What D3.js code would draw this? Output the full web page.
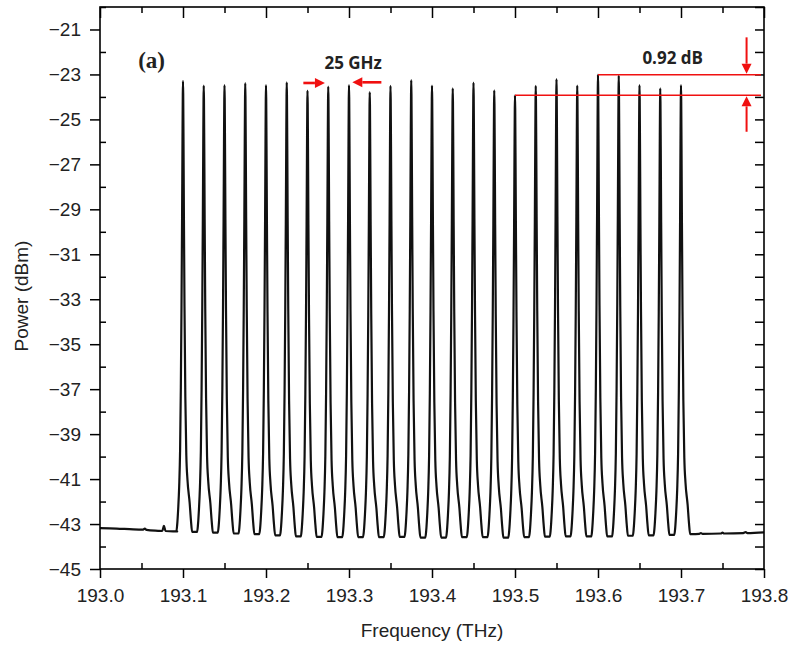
<!DOCTYPE html>
<html>
<head>
<meta charset="utf-8">
<script src="https://cdn.jsdelivr.net/npm/d3@7/dist/d3.min.js"></script>
<style>
    body { margin: 0; background: #fff; }
    .axis text { font-family: "Liberation Sans", Arial, sans-serif; font-size: 19px; fill: #222; }
    .axis line { stroke: #000; stroke-width: 1.5px; }
    .axis path { display: none; }
    .title { font-family: "Liberation Sans", Arial, sans-serif; font-size: 19px; fill: #222; }
    .note { font-family: "Open Sans", sans-serif; font-weight: bold; font-size: 17px; fill: #222; }
</style>
</head>
<body>
<div id="chart"></div>
<script>

// channel centres (THz) and peak power (dBm)
var channels = [193.100, 193.125, 193.150, 193.175, 193.200, 193.225, 193.250, 193.275, 193.300,
                193.325, 193.350, 193.375, 193.400, 193.425, 193.450, 193.475, 193.500, 193.525,
                193.550, 193.575, 193.600, 193.625, 193.650, 193.675, 193.700];
var peaks = [-23.29, -23.50, -23.47, -23.38, -23.47, -23.35, -23.72, -23.54, -23.47,
             -23.79, -23.51, -23.25, -23.50, -23.62, -23.36, -23.71, -23.93, -23.51,
             -23.21, -23.50, -23.01, -23.05, -23.47, -23.62, -23.47];

// floor level between neighbouring channels (dBm)
var troughs = [-43.35, -43.38, -43.42, -43.45, -43.50, -43.55, -43.57, -43.58,
               -43.58, -43.58, -43.57, -43.60, -43.60, -43.58, -43.58, -43.60,
               -43.58, -43.56, -43.55, -43.55, -43.55, -43.52, -43.50, -43.48];

// noise floor outside the comb [THz, dBm]
var leftFloor = [[193.000, -43.18], [193.020, -43.20], [193.040, -43.24], [193.052, -43.25],
                 [193.054, -43.20], [193.056, -43.26], [193.070, -43.30], [193.075, -43.31],
                 [193.077, -43.08], [193.079, -43.31], [193.088, -43.33], [193.093, -43.33]];
var rightFloor = [[193.713, -43.45], [193.722, -43.44], [193.724, -43.40], [193.726, -43.44],
                  [193.748, -43.42], [193.750, -43.38], [193.752, -43.42], [193.775, -43.40],
                  [193.778, -43.36], [193.780, -43.40], [193.800, -43.37]];

// line shape of one channel: [offset GHz, fraction of the way from peak down to floor]
var riseShape = [[-8.0, 1.0], [-7.0, 0.985], [-5.8, 0.95], [-4.6, 0.9], [-3.5, 0.82],
                 [-2.6, 0.68], [-1.8, 0.5], [-1.1, 0.3], [-0.6, 0.13], [-0.25, 0.03], [0, 0]];
var fallShape = [[0.25, 0.03], [0.6, 0.13], [1.1, 0.3], [1.8, 0.5], [2.8, 0.7],
                 [4.0, 0.83], [5.4, 0.885], [8.0, 0.935], [9.6, 0.975], [11.0, 1.0]];

// axis ticks
var xTicks = [193.0, 193.1, 193.2, 193.3, 193.4, 193.5, 193.6, 193.7, 193.8];
var xMinor = [193.05, 193.15, 193.25, 193.35, 193.45, 193.55, 193.65, 193.75];
var yTicks = [-45, -43, -41, -39, -37, -35, -33, -31, -29, -27, -25, -23, -21];
var yMinor = [-44, -42, -40, -38, -36, -34, -32, -30, -28, -26, -24, -22, -20];

var margin = { top: 7, right: 29, bottom: 79, left: 100 };
var width = 793 - margin.left - margin.right,
    height = 648 - margin.top - margin.bottom;

var svg = d3.select("#chart").append("svg")
    .attr("width", 793)
    .attr("height", 648)
  .append("g")
    .attr("transform", "translate(" + margin.left + "," + margin.top + ")");

var x = d3.scaleLinear().domain([193.0, 193.8]).range([0, width]);
var y = d3.scaleLinear().domain([-45, -20]).range([height, 0]);

// build the trace from the floor pieces and one shape per channel
var trace = leftFloor.slice();
channels.forEach(function(f, i) {
    var p = peaks[i];
    var lo = i === 0 ? leftFloor[leftFloor.length - 1][1] : troughs[i - 1];
    var hi = i === channels.length - 1 ? rightFloor[0][1] : troughs[i];
    riseShape.forEach(function(d) { trace.push([f + d[0] / 1000, p - d[1] * (p - lo)]); });
    fallShape.forEach(function(d) { trace.push([f + d[0] / 1000, p - d[1] * (p - hi)]); });
});
trace = trace.concat(rightFloor);

var line = d3.line()
    .curve(d3.curveMonotoneX)
    .x(function(d) { return x(d[0]); })
    .y(function(d) { return y(d[1]); });

svg.append("path")
    .datum(trace)
    .attr("d", line)
    .attr("fill", "none")
    .attr("stroke", "#111")
    .attr("stroke-width", 2.2)
    .attr("stroke-linejoin", "round");

// axes: major ticks point out on left/bottom, everything else points in
svg.append("g").attr("class", "axis")
    .attr("transform", "translate(0," + height + ")")
    .call(d3.axisBottom(x).tickValues(xTicks).tickSize(9).tickPadding(11).tickFormat(d3.format(".1f")));
svg.append("g").attr("class", "axis")
    .attr("transform", "translate(0," + height + ")")
    .call(d3.axisTop(x).tickValues(xMinor).tickSize(6).tickFormat(""));
svg.append("g").attr("class", "axis")
    .call(d3.axisLeft(y).tickValues(yTicks).tickSize(10).tickPadding(9));
svg.append("g").attr("class", "axis")
    .call(d3.axisRight(y).tickValues(yMinor).tickSize(6).tickFormat(""));
svg.append("g").attr("class", "axis")
    .call(d3.axisBottom(x).tickValues(xTicks).tickSize(11).tickFormat(""));
svg.append("g").attr("class", "axis")
    .call(d3.axisBottom(x).tickValues(xMinor).tickSize(6).tickFormat(""));
svg.append("g").attr("class", "axis")
    .attr("transform", "translate(" + width + ",0)")
    .call(d3.axisLeft(y).tickValues(yTicks.concat(yMinor)).tickSize(9).tickFormat(""));

svg.append("rect")
    .attr("width", width)
    .attr("height", height)
    .attr("fill", "none")
    .attr("stroke", "#000")
    .attr("stroke-width", 1.6);

svg.append("text")
    .attr("class", "title")
    .attr("x", width / 2)
    .attr("y", height + 68)
    .attr("text-anchor", "middle")
    .text("Frequency (THz)");

svg.append("text")
    .attr("class", "title")
    .attr("transform", "translate(" + (28 - margin.left) + "," + (height / 2 + 8) + ") rotate(-90)")
    .attr("text-anchor", "middle")
    .text("Power (dBm)");

svg.append("text")
    .attr("x", x(193.046))
    .attr("y", y(-22.7))
    .attr("font-family", "Liberation Serif, Times New Roman, serif")
    .attr("font-weight", "bold")
    .attr("font-size", 23)
    .attr("fill", "#222")
    .text("(a)");

// annotations
var red = "#f01010";

function arrow(x1, y1, x2, y2, w) {
    var ang = Math.atan2(y2 - y1, x2 - x1), len = 10, half = 5;
    var bx = x2 - len * Math.cos(ang), by = y2 - len * Math.sin(ang);
    svg.append("line")
        .attr("x1", x1).attr("y1", y1).attr("x2", bx).attr("y2", by)
        .attr("stroke", red).attr("stroke-width", w);
    svg.append("path")
        .attr("d", "M" + x2 + "," + y2 +
            "L" + (bx + half * Math.sin(ang)) + "," + (by - half * Math.cos(ang)) +
            "L" + (bx - half * Math.sin(ang)) + "," + (by + half * Math.cos(ang)) + "Z")
        .attr("fill", red);
}

var maxPeak = d3.max(peaks), minPeak = d3.min(peaks);

svg.append("line")
    .attr("x1", x(channels[peaks.indexOf(maxPeak)])).attr("x2", width - 3)
    .attr("y1", y(maxPeak)).attr("y2", y(maxPeak))
    .attr("stroke", red).attr("stroke-width", 1.5);
svg.append("line")
    .attr("x1", x(channels[peaks.indexOf(minPeak)])).attr("x2", width - 3)
    .attr("y1", y(minPeak)).attr("y2", y(minPeak))
    .attr("stroke", red).attr("stroke-width", 1.5);

arrow(x(193.779), y(-21.35), x(193.779), y(maxPeak) - 1, 2);
arrow(x(193.779), y(-25.55), x(193.779), y(minPeak) + 1, 2);

svg.append("text")
    .attr("class", "note")
    .attr("x", x(193.69))
    .attr("y", y(-22.55))
    .attr("text-anchor", "middle")
    .text((maxPeak - minPeak).toFixed(2) + " dB");

arrow(x(193.245), y(-23.38), x(193.271), y(-23.38), 2.6);
arrow(x(193.339), y(-23.35), x(193.304), y(-23.35), 2.6);

svg.append("text")
    .attr("class", "note")
    .attr("x", x(193.305))
    .attr("y", y(-22.75))
    .attr("text-anchor", "middle")
    .text("25 GHz");

</script>
</body>
</html>
